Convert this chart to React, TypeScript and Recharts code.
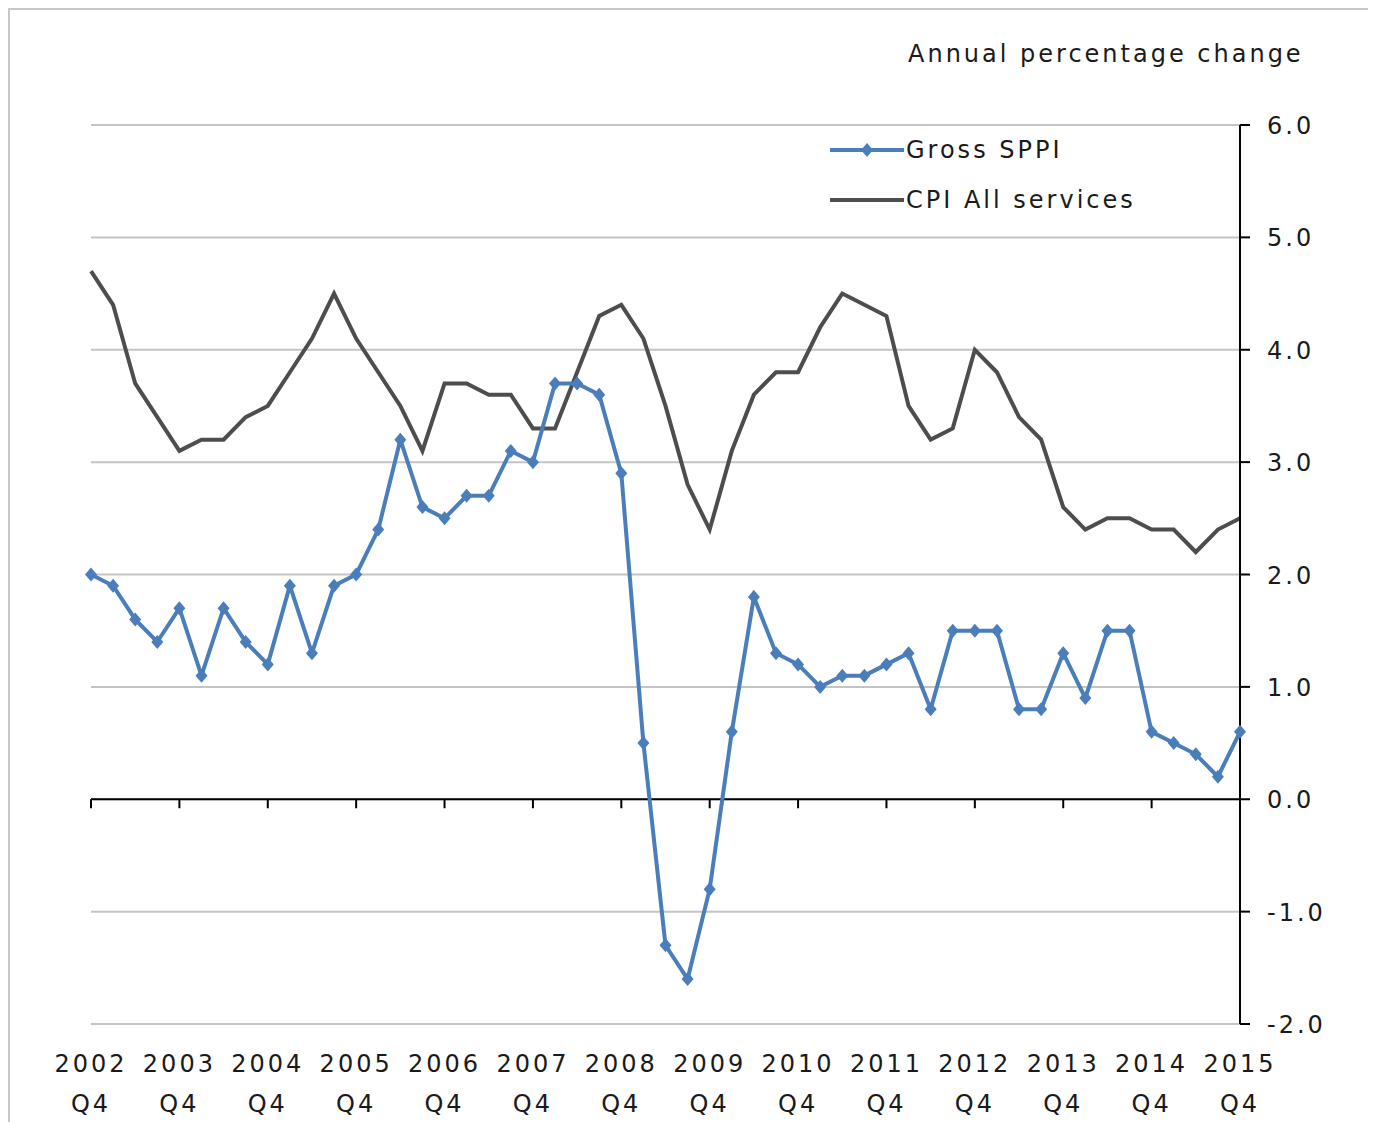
import React from "react";
import { LineChart, Line, XAxis, YAxis, CartesianGrid, ReferenceLine } from "recharts";

const years = [2002, 2003, 2004, 2005, 2006, 2007, 2008, 2009, 2010, 2011, 2012, 2013, 2014, 2015];

// quarterly labels, 2002 Q4 .. 2015 Q4
const quarters: string[] = ["2002 Q4"];
years.slice(1).forEach((y) => {
  ["Q1", "Q2", "Q3", "Q4"].forEach((q) => quarters.push(`${y} ${q}`));
});

const tickQuarters = years.map((y) => `${y} Q4`);

const grossSppi = [
  2.0, 1.9, 1.6, 1.4, 1.7, 1.1, 1.7, 1.4, 1.2, 1.9, 1.3, 1.9, 2.0, 2.4, 3.2, 2.6, 2.5, 2.7,
  2.7, 3.1, 3.0, 3.7, 3.7, 3.6, 2.9, 0.5, -1.3, -1.6, -0.8, 0.6, 1.8, 1.3, 1.2, 1.0, 1.1, 1.1,
  1.2, 1.3, 0.8, 1.5, 1.5, 1.5, 0.8, 0.8, 1.3, 0.9, 1.5, 1.5, 0.6, 0.5, 0.4, 0.2, 0.6,
];

const cpiServices = [
  4.7, 4.4, 3.7, 3.4, 3.1, 3.2, 3.2, 3.4, 3.5, 3.8, 4.1, 4.5, 4.1, 3.8, 3.5, 3.1, 3.7, 3.7,
  3.6, 3.6, 3.3, 3.3, 3.8, 4.3, 4.4, 4.1, 3.5, 2.8, 2.4, 3.1, 3.6, 3.8, 3.8, 4.2, 4.5, 4.4,
  4.3, 3.5, 3.2, 3.3, 4.0, 3.8, 3.4, 3.2, 2.6, 2.4, 2.5, 2.5, 2.4, 2.4, 2.2, 2.4, 2.5,
];

const yTicks = [-2, -1, 0, 1, 2, 3, 4, 5, 6];
const Y_MIN = -2;
const Y_MAX = 6;

const data = quarters.map((q, i) => ({ q, sppi: grossSppi[i], cpi: cpiServices[i] }));

const BLUE = "#4a7ebb";
const GREY = "#4d4d4d";
const FONT = "'DejaVu Sans', Verdana, sans-serif";
const TEXT = "#1a1a1a";
const FS = 24;
const LS = 3;

const W = 1366;
const H = 1112;
const M_TOP = 115;
const M_LEFT = 81;
const Y_AXIS_W = 136;
const X_AXIS_H = 98;
const PLOT_H = H - M_TOP - X_AXIS_H;

const Diamond = (props: any) => {
  const { cx, cy } = props;
  if (cx == null || cy == null) return null;
  const r = 7;
  return <path d={`M${cx},${cy - r}L${cx + r - 1},${cy}L${cx},${cy + r}L${cx - r + 1},${cy}Z`} fill={BLUE} stroke="none" />;
};

const XTick = (props: any) => {
  const { x, y, payload } = props;
  const [yr, q] = String(payload.value).split(" ");
  // axis line sits at zero, ticks hang down from it
  const zeroY = y - (PLOT_H * (0 - Y_MIN)) / (Y_MAX - Y_MIN);
  return (
    <g>
      <line x1={x} x2={x} y1={zeroY} y2={zeroY + 9} stroke="#000" strokeWidth={2} />
      <text x={x} y={y + 48} textAnchor="middle" fontFamily={FONT} fontSize={FS} letterSpacing={LS} fill={TEXT}>
        {yr}
      </text>
      <text x={x} y={y + 88} textAnchor="middle" fontFamily={FONT} fontSize={FS} letterSpacing={LS} fill={TEXT}>
        {q}
      </text>
    </g>
  );
};

const YTick = (props: any) => {
  const { x, y, payload } = props;
  return (
    <text x={x + 15} y={y + 9} textAnchor="start" fontFamily={FONT} fontSize={FS} letterSpacing={LS} fill={TEXT}>
      {Number(payload.value).toFixed(1)}
    </text>
  );
};

const LegendBox = () => (
  <div
    style={{
      position: "absolute",
      left: 820,
      top: 115,
      fontFamily: FONT,
      fontSize: FS,
      letterSpacing: LS,
      color: TEXT,
      whiteSpace: "nowrap",
    }}
  >
    <div style={{ display: "flex", alignItems: "center", height: 50 }}>
      <svg width={76} height={20}>
        <line x1={0} x2={74} y1={10} y2={10} stroke={BLUE} strokeWidth={4} />
        <path d="M37,3L43,10L37,17L31,10Z" fill={BLUE} />
      </svg>
      <span>Gross SPPI</span>
    </div>
    <div style={{ display: "flex", alignItems: "center", height: 50 }}>
      <svg width={76} height={20}>
        <line x1={0} x2={74} y1={10} y2={10} stroke={GREY} strokeWidth={4} />
      </svg>
      <span>CPI All services</span>
    </div>
  </div>
);

export default function App() {
  return (
    <div
      style={{
        position: "relative",
        width: W,
        height: H,
        borderTop: "2px solid #c8c8c8",
        borderLeft: "2px solid #c8c8c8",
        background: "#fff",
      }}
    >
      <div
        style={{
          position: "absolute",
          left: 898,
          top: 30,
          fontFamily: FONT,
          fontSize: FS,
          letterSpacing: LS,
          color: TEXT,
          whiteSpace: "nowrap",
        }}
      >
        Annual percentage change
      </div>
      <LineChart width={W} height={H} data={data} margin={{ top: M_TOP, right: 0, left: M_LEFT, bottom: 0 }}>
        <CartesianGrid horizontal vertical={false} stroke="#c4c4c4" strokeWidth={2} />
        <XAxis
          dataKey="q"
          ticks={tickQuarters}
          interval={0}
          height={X_AXIS_H}
          axisLine={false}
          tickLine={false}
          tickSize={0}
          tickMargin={0}
          tick={<XTick />}
          padding={{ left: 0, right: 0 }}
        />
        <YAxis
          orientation="right"
          width={Y_AXIS_W}
          domain={[Y_MIN, Y_MAX]}
          ticks={yTicks}
          interval={0}
          axisLine={{ stroke: "#000", strokeWidth: 2 }}
          tickLine={{ stroke: "#000", strokeWidth: 2 }}
          tickSize={10}
          tick={<YTick />}
        />
        <ReferenceLine y={0} stroke="#000" strokeWidth={2} />
        <Line
          type="linear"
          dataKey="cpi"
          name="CPI All services"
          stroke={GREY}
          strokeWidth={4}
          dot={false}
          isAnimationActive={false}
        />
        <Line
          type="linear"
          dataKey="sppi"
          name="Gross SPPI"
          stroke={BLUE}
          strokeWidth={4}
          dot={<Diamond />}
          isAnimationActive={false}
        />
      </LineChart>
      <LegendBox />
    </div>
  );
}
